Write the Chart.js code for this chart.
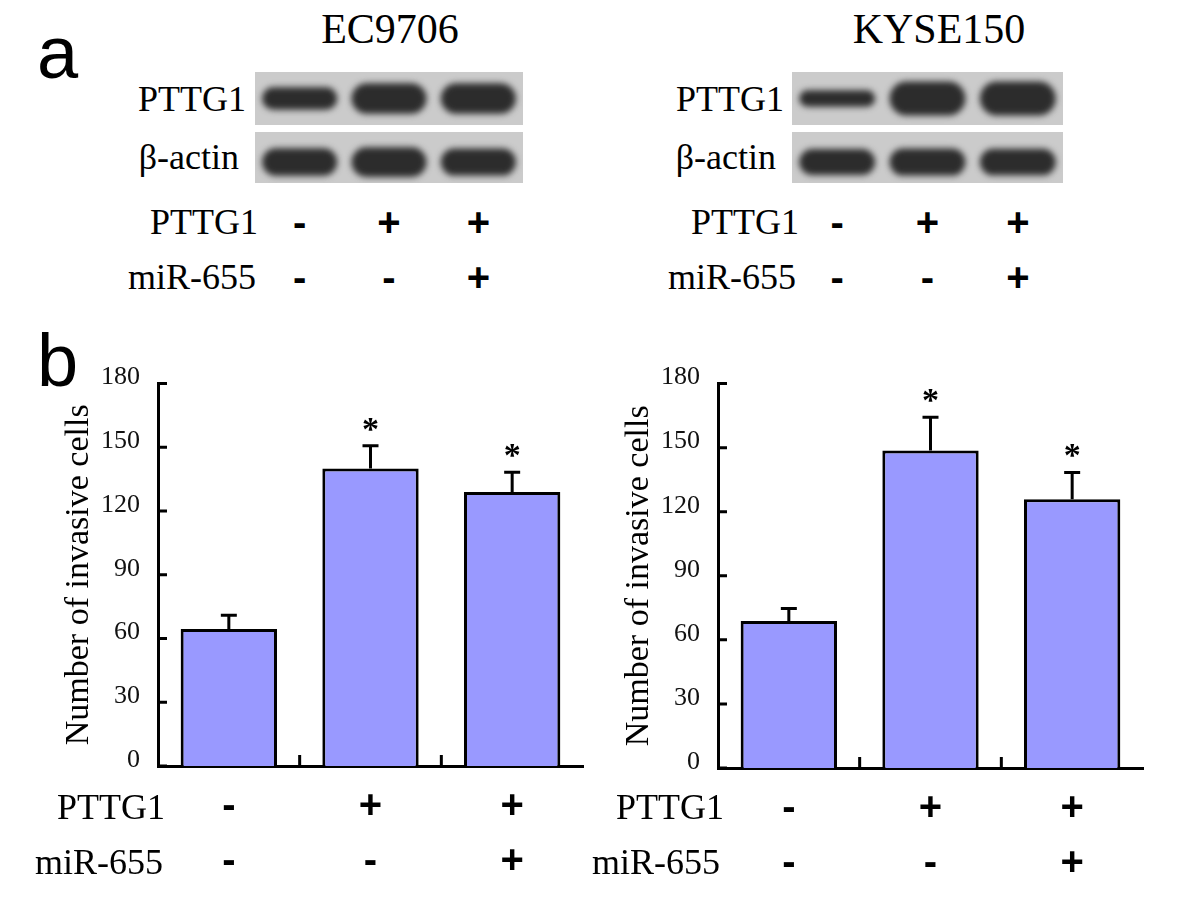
<!DOCTYPE html>
<html>
<head>
<meta charset="utf-8">
<script src="https://cdn.jsdelivr.net/npm/chart.js@4.4.0/dist/chart.umd.min.js"></script>
<style>
body { margin: 0; background: #fff; }
#fig { position: relative; width: 1181px; height: 908px; overflow: hidden; background: #fff; }
#fig canvas { position: absolute; }
.t { position: absolute; white-space: nowrap; line-height: 1; color: #000; }
.serif { font-family: 'Liberation Serif', 'Times New Roman', serif; font-size: 36px; }
.big { font-family: 'Liberation Serif', 'Times New Roman', serif; font-size: 42px; }
.sign { font-family: 'Liberation Sans', Arial, sans-serif; font-weight: bold; font-size: 40px; }
.panel { font-family: 'Liberation Sans', Arial, sans-serif; font-size: 74px; }
</style>
</head>
<body>
<div id="fig">
  <canvas id="ecPttg1" width="268" height="53" style="left:255px;top:72px"></canvas>
  <canvas id="ecActin" width="268" height="51" style="left:255px;top:132px"></canvas>
  <canvas id="kyPttg1" width="271" height="53" style="left:792px;top:72px"></canvas>
  <canvas id="kyActin" width="271" height="51" style="left:792px;top:132px"></canvas>
  <canvas id="ecBars" width="560" height="540" style="left:30px;top:350px"></canvas>
  <canvas id="kyBars" width="560" height="540" style="left:590px;top:350px"></canvas>
</div>
<script>
// lanes / groups
const lanes = ['1', '2', '3'];
const pttg1Flags = ['-', '+', '+'];
const mirFlags = ['-', '-', '+'];

// western blot band density (relative half thickness)
const ecPttg1Band = [0.42, 0.58, 0.58];
const ecActinBand = [0.54, 0.58, 0.53];
const kyPttg1Band = [0.31, 0.64, 0.64];
const kyActinBand = [0.51, 0.53, 0.52];

// invasion assay
const yMin = 0, yMax = 180, yStep = 30;
const ecInvasion = [64.5, 140, 129];
const ecError = [6.5, 10.8, 9.3];
const kyInvasion = [68.8, 148.7, 125.9];
const kyError = [5.9, 15.6, 12.5];
const starMarks = ['', '*', '*'];

const fig = document.getElementById('fig');

function addText(txt, x, y, cls, align) {
    var el = document.createElement('div');
    el.className = 't ' + cls;
    el.textContent = txt;
    el.style.left = x + 'px';
    el.style.top = y + 'px';
    var tx = align == 'right' ? '-100%' : (align == 'center' ? '-50%' : '0');
    el.style.transform = 'translate(' + tx + ',-50%)';
    fig.appendChild(el);
}

// gray membrane + blurred bands
const blotLook = {
    id: 'blotLook',
    beforeDraw(chart) {
        const ctx = chart.ctx;
        ctx.save();
        ctx.fillStyle = '#cbcbcb';
        ctx.fillRect(0, 0, chart.width, chart.height);
        ctx.restore();
    },
    beforeDatasetsDraw(chart) {
        chart.ctx.save();
        chart.ctx.filter = 'blur(3px)';
    },
    afterDatasetsDraw(chart) {
        chart.ctx.restore();
    }
};

function blotChart(id, bands, lo, hi) {
    return new Chart(document.getElementById(id), {
        type: 'bar',
        data: {
            labels: lanes,
            datasets: [{
                data: bands.map(v => [-v, v]),
                backgroundColor: '#2c2c2c',
                borderWidth: 0,
                borderRadius: 40,
                borderSkipped: false,
                barPercentage: 0.84,
                categoryPercentage: 1
            }]
        },
        options: {
            responsive: false, animation: false, events: [],
            layout: { padding: 0 },
            plugins: { legend: { display: false }, tooltip: { enabled: false } },
            scales: {
                x: { display: false },
                y: { display: false, min: lo, max: hi }
            }
        },
        plugins: [blotLook]
    });
}

const ecP = blotChart('ecPttg1', ecPttg1Band, -1, 1);
const ecA = blotChart('ecActin', ecActinBand, -0.82, 1.18);
const kyP = blotChart('kyPttg1', kyPttg1Band, -1, 1);
const kyA = blotChart('kyActin', kyActinBand, -0.82, 1.18);

// error bars, stars, inward ticks, +/- rows
const barExtras = {
    id: 'barExtras',
    afterDatasetsDraw(chart, args, opts) {
        const ctx = chart.ctx;
        const y = chart.scales.y;
        const vals = chart.data.datasets[0].data;
        ctx.save();
        ctx.strokeStyle = '#000';
        ctx.lineWidth = 3;
        chart.getDatasetMeta(0).data.forEach(function (bar, i) {
            var top = y.getPixelForValue(vals[i]);
            var tip = y.getPixelForValue(vals[i] + opts.errors[i]);
            ctx.beginPath();
            ctx.moveTo(bar.x, top);
            ctx.lineTo(bar.x, tip);
            ctx.moveTo(bar.x - 8, tip);
            ctx.lineTo(bar.x + 8, tip);
            ctx.stroke();
            if (opts.stars[i]) {
                ctx.fillStyle = '#000';
                ctx.font = 'bold 34px "Liberation Serif"';
                ctx.textAlign = 'center';
                ctx.textBaseline = 'alphabetic';
                ctx.fillText(opts.stars[i], bar.x, tip - 6);
            }
        });
        ctx.restore();
    },
    afterDraw(chart) {
        const ctx = chart.ctx;
        const area = chart.chartArea;
        const x = chart.scales.x, y = chart.scales.y;
        ctx.save();
        ctx.strokeStyle = '#000';
        ctx.lineWidth = 3;
        ctx.beginPath();
        y.ticks.forEach(function (t) {
            var py = y.getPixelForValue(t.value);
            ctx.moveTo(area.left, py);
            ctx.lineTo(area.left + 9, py);
        });
        for (var i = 0; i < lanes.length - 1; i++) {
            var px = (x.getPixelForValue(i) + x.getPixelForValue(i + 1)) / 2;
            ctx.moveTo(px, area.bottom);
            ctx.lineTo(px, area.bottom - 11);
        }
        ctx.stroke();
        ctx.fillStyle = '#000';
        ctx.font = 'bold 40px "Liberation Sans"';
        ctx.textAlign = 'center';
        ctx.textBaseline = 'middle';
        lanes.forEach(function (l, i) {
            var px = x.getPixelForValue(i);
            ctx.fillText(pttg1Flags[i], px, area.bottom + 41);
            ctx.fillText(mirFlags[i], px, area.bottom + 96);
        });
        ctx.restore();
    }
};

function invasionChart(id, values, errors, padTop, padBottom) {
    return new Chart(document.getElementById(id), {
        type: 'bar',
        data: {
            labels: lanes,
            datasets: [{
                data: values,
                backgroundColor: '#9999ff',
                borderColor: '#000',
                borderWidth: 3,
                barPercentage: 0.68,
                categoryPercentage: 1
            }]
        },
        options: {
            responsive: false, animation: false, events: [],
            layout: { padding: { top: padTop, right: 7, bottom: padBottom, left: 0 } },
            plugins: {
                legend: { display: false },
                tooltip: { enabled: false },
                barExtras: { errors: errors, stars: starMarks }
            },
            scales: {
                x: {
                    grid: { display: false, drawTicks: false },
                    ticks: { display: false },
                    border: { color: '#000', width: 3 },
                    afterFit: function (s) { s.height = 0; }
                },
                y: {
                    min: yMin, max: yMax,
                    grid: { display: false, drawTicks: false },
                    border: { color: '#000', width: 3 },
                    ticks: {
                        stepSize: yStep, padding: 18, labelOffset: -6, color: '#111',
                        font: { family: 'Liberation Serif', size: 26 }
                    },
                    title: {
                        display: true, text: 'Number of invasive cells', color: '#000',
                        font: { family: 'Liberation Serif', size: 34 },
                        padding: { top: 29, bottom: 0 }
                    },
                    afterFit: function (s) { s.width = 128; }
                }
            }
        },
        plugins: [barExtras]
    });
}

invasionChart('ecBars', ecInvasion, ecError, 26, 124);
invasionChart('kyBars', kyInvasion, kyError, 25, 122);

// text
addText('a', 37, 53, 'panel', 'left');
addText('b', 37, 361, 'panel', 'left');
addText('EC9706', 390, 29, 'big', 'center');
addText('KYSE150', 939, 29, 'big', 'center');
addText('PTTG1', 246, 99, 'serif', 'right');
addText('\u03b2-actin', 239, 157, 'serif', 'right');
addText('PTTG1', 784, 99, 'serif', 'right');
addText('\u03b2-actin', 776, 157, 'serif', 'right');
addText('PTTG1', 258, 222, 'serif', 'right');
addText('miR-655', 256, 277, 'serif', 'right');
addText('PTTG1', 799, 222, 'serif', 'right');
addText('miR-655', 796, 277, 'serif', 'right');
addText('PTTG1', 165, 807, 'serif', 'right');
addText('miR-655', 163, 862, 'serif', 'right');
addText('PTTG1', 724, 807, 'serif', 'right');
addText('miR-655', 720, 862, 'serif', 'right');

// +/- under the blots, at the lane centres
[[ecA, 255], [kyA, 792]].forEach(function (pair) {
    var sc = pair[0].scales.x;
    lanes.forEach(function (l, i) {
        var cx = pair[1] + sc.getPixelForValue(i);
        addText(pttg1Flags[i], cx, 222, 'sign', 'center');
        addText(mirFlags[i], cx, 277, 'sign', 'center');
    });
});
</script>
</body>
</html>
